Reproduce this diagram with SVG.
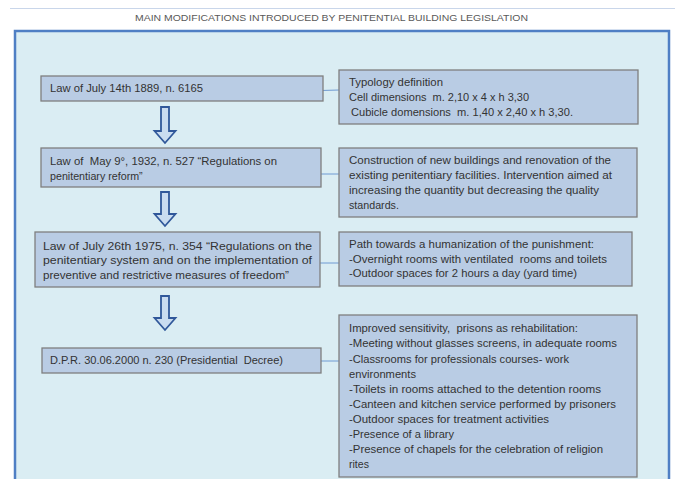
<svg xmlns="http://www.w3.org/2000/svg" width="675" height="479" viewBox="0 0 675 479">
<defs>
<style>
.frame{fill:#daedf3;stroke:#4f7fc4;stroke-width:2.5}
.box{fill:#b9cce4;stroke:#7f7f7f;stroke-width:1.3}
.t{font-family:"Liberation Sans",Arial,sans-serif;font-size:10.7px;fill:#333333}
.title{font-family:"Liberation Sans",Arial,sans-serif;font-size:9.8px;fill:#595959}
.link{stroke:#6f9ad2;stroke-width:1;fill:none}
.arrow{fill:#c9dcf0;stroke:#30589a;stroke-width:1.8;stroke-linejoin:miter}
</style>
</defs>
<rect width="675" height="479" fill="#ffffff"/>
<line x1="10" y1="8.5" x2="675" y2="8.5" stroke="#c9d6ea" stroke-width="1.2"/>
<text class="title" x="135" y="21" textLength="393" lengthAdjust="spacingAndGlyphs">MAIN MODIFICATIONS INTRODUCED BY PENITENTIAL BUILDING LEGISLATION</text>
<rect class="frame" x="15" y="31" width="654" height="460"/>

<g id="connectors">
<line class="link" x1="303" y1="91" x2="339" y2="90"/>
<line class="link" x1="321" y1="174" x2="339" y2="174"/>
<line class="link" x1="320" y1="263" x2="339" y2="263"/>
<line class="link" x1="321" y1="361" x2="339" y2="361"/>
<path class="arrow" d="M161,107 H169 V131 H175.5 L165,143 L154.5,131 H161 Z"/>
<path class="arrow" d="M161,192 H169 V214 H175.5 L165,226 L154.5,214 H161 Z"/>
<path class="arrow" d="M161,296 H169 V318 H175.5 L165,330 L154.5,318 H161 Z"/>
</g>

<g id="law1889">
<rect class="box" x="41" y="76" width="282" height="25"/>
<text class="t" x="50" y="92" textLength="153" lengthAdjust="spacingAndGlyphs">Law of July 14th 1889, n. 6165</text>
</g>

<g id="law1932">
<rect class="box" x="41" y="148" width="280" height="39"/>
<text class="t" x="50" y="165" textLength="227" lengthAdjust="spacingAndGlyphs">Law of&#160; May 9°, 1932, n. 527 “Regulations on</text>
<text class="t" x="50" y="180">penitentiary reform”</text>
</g>

<g id="law1975">
<rect class="box" x="35" y="232" width="285" height="55"/>
<text class="t" x="43" y="250" textLength="269" lengthAdjust="spacingAndGlyphs">Law of July 26th 1975, n. 354 “Regulations on the</text>
<text class="t" x="43" y="264" textLength="269" lengthAdjust="spacingAndGlyphs">penitentiary system and on the implementation of</text>
<text class="t" x="43" y="279" textLength="246" lengthAdjust="spacingAndGlyphs">preventive and restrictive measures of freedom”</text>
</g>

<g id="dpr2000">
<rect class="box" x="42" y="348" width="279" height="25"/>
<text class="t" x="50" y="364" textLength="233" lengthAdjust="spacingAndGlyphs">D.P.R. 30.06.2000 n. 230 (Presidential&#160; Decree)</text>
</g>

<g id="typology">
<rect class="box" x="339" y="70" width="299" height="54"/>
<text class="t" x="349" y="86" textLength="94" lengthAdjust="spacingAndGlyphs">Typology definition</text>
<text class="t" x="349" y="101" textLength="180" lengthAdjust="spacingAndGlyphs">Cell dimensions&#160; m. 2,10 x 4 x h 3,30</text>
<text class="t" x="351" y="116" textLength="222" lengthAdjust="spacingAndGlyphs">Cubicle domensions&#160; m. 1,40 x 2,40 x h 3,30.</text>
</g>

<g id="construction">
<rect class="box" x="339" y="148" width="298" height="69"/>
<text class="t" x="349" y="164" textLength="262" lengthAdjust="spacingAndGlyphs">Construction of new buildings and renovation of the</text>
<text class="t" x="349" y="179" textLength="263" lengthAdjust="spacingAndGlyphs">existing penitentiary facilities. Intervention aimed at</text>
<text class="t" x="349" y="194" textLength="250" lengthAdjust="spacingAndGlyphs">increasing the quantity but decreasing the quality</text>
<text class="t" x="349" y="209">standards.</text>
</g>

<g id="humanization">
<rect class="box" x="339" y="232" width="293" height="54"/>
<text class="t" x="349" y="248" textLength="245" lengthAdjust="spacingAndGlyphs">Path towards a humanization of the punishment:</text>
<text class="t" x="349" y="263" textLength="258" lengthAdjust="spacingAndGlyphs">-Overnight rooms with ventilated&#160; rooms and toilets</text>
<text class="t" x="349" y="277" textLength="228" lengthAdjust="spacingAndGlyphs">-Outdoor spaces for 2 hours a day (yard time)</text>
</g>

<g id="rehabilitation">
<rect class="box" x="339" y="315" width="298" height="162"/>
<text class="t" x="349" y="332" textLength="229" lengthAdjust="spacingAndGlyphs">Improved sensitivity,&#160; prisons as rehabilitation:</text>
<text class="t" x="349" y="347" textLength="268" lengthAdjust="spacingAndGlyphs">-Meeting without glasses screens, in adequate rooms</text>
<text class="t" x="349" y="363" textLength="220" lengthAdjust="spacingAndGlyphs">-Classrooms for professionals courses- work</text>
<text class="t" x="349" y="378" textLength="67" lengthAdjust="spacingAndGlyphs">environments</text>
<text class="t" x="349" y="393" textLength="252" lengthAdjust="spacingAndGlyphs">-Toilets in rooms attached to the detention rooms</text>
<text class="t" x="349" y="408" textLength="267" lengthAdjust="spacingAndGlyphs">-Canteen and kitchen service performed by prisoners</text>
<text class="t" x="349" y="423" textLength="200" lengthAdjust="spacingAndGlyphs">-Outdoor spaces for treatment activities</text>
<text class="t" x="349" y="438" textLength="105" lengthAdjust="spacingAndGlyphs">-Presence of a library</text>
<text class="t" x="349" y="453" textLength="254" lengthAdjust="spacingAndGlyphs">-Presence of chapels for the celebration of religion</text>
<text class="t" x="349" y="468" textLength="20" lengthAdjust="spacingAndGlyphs">rites</text>
</g>
</svg>
